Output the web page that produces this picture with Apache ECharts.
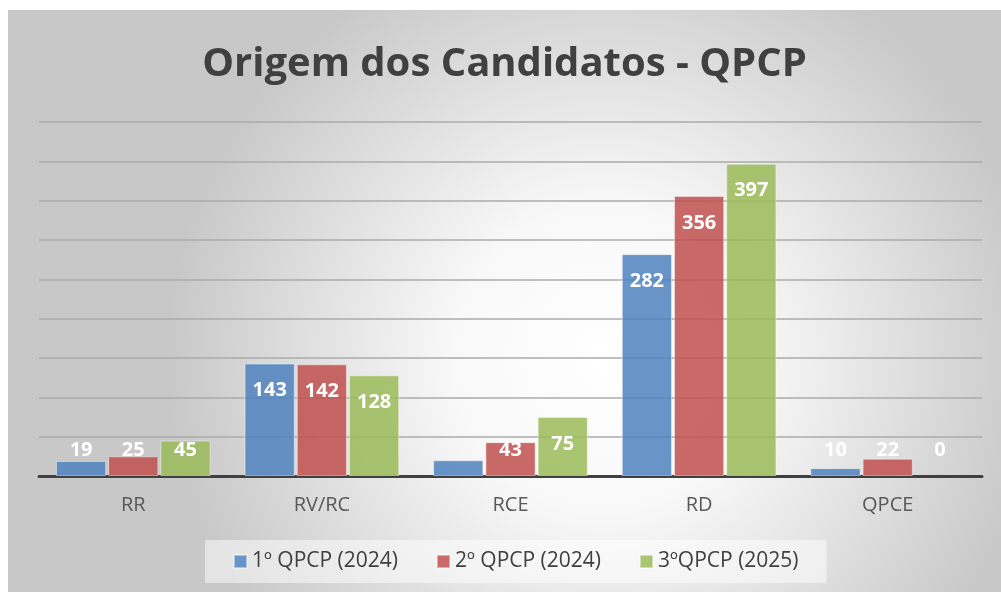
<!DOCTYPE html>
<html>
<head>
<meta charset="utf-8">
<script src="https://cdn.jsdelivr.net/npm/echarts@6/dist/echarts.min.js"></script>
<style>
html,body{margin:0;padding:0;background:#fff;width:1001px;height:592px;overflow:hidden;}
#c{position:absolute;left:8px;top:10px;width:993px;height:582px;}
</style>
</head>
<body>
<div id="c"></div>
<script>
const categories = ['RR', 'RV/RC', 'RCE', 'RD', 'QPCE'];
const seriesNames = ['1º QPCP (2024)', '2º QPCP (2024)', '3ºQPCP (2025)'];
const qpcp1 = [19, 143, 20, 282, 10];
const qpcp2 = [25, 142, 43, 356, 22];
const qpcp3 = [45, 128, 75, 397, 0];
// labels shown in the picture (the RCE bar of the 1st QPCP has no label)
const showLabel1 = [true, true, false, true, true];
const showLabel2 = [true, true, true, true, true];
const showLabel3 = [true, true, true, true, true];
const yTicks = { min: 0, max: 450, interval: 50 };
</script>
<script>
const colors = ['rgba(79,129,189,0.85)', 'rgba(192,80,77,0.85)', 'rgba(155,187,89,0.85)'];
const legendColors = ['#6994c7', '#c96a68', '#aac572'];
const chart = echarts.init(document.getElementById('c'));
const font = '"Open Sans", "Liberation Sans", sans-serif';
function mk(name, data, shows, i) {
  return {
    name: name,
    type: 'bar',
    data: data.map((v, k) => ({
      value: v,
      itemStyle: { borderWidth: v === 0 ? 0 : 1 },
      label: { show: shows[k] }
    })),
    barGap: '4%',
    barCategoryGap: '18%',
    itemStyle: { color: colors[i], borderColor: 'rgba(255,255,255,0.45)', borderWidth: 1 },
    label: {
      show: true, position: 'insideTop', distance: 16,
      color: '#ffffff', fontFamily: font, fontWeight: 'bold', fontSize: 20
    },
    labelLayout: function (p) {
      const r = p.rect;
      const base = r.y + r.height;
      const top = r.y;
      const want = Math.min(top + 27, base - 26);
      const cur = p.labelRect.y + p.labelRect.height / 2;
      return { dy: want - cur };
    }
  };
}
chart.setOption({
  backgroundColor: {
    type: 'radial', x: 0.6, y: 0.6, r: 0.75,
    colorStops: [{ offset: 0, color: '#ffffff' }, { offset: 0.35, color: '#f8f8f8' }, { offset: 1, color: '#c8c8c8' }]
  },
  color: legendColors,
  title: {
    text: 'Origem dos Candidatos - QPCP', left: 'center', top: 30,
    textStyle: { fontFamily: font, fontWeight: 'bold', fontSize: 40, color: '#404040' }
  },
  legend: {
    bottom: 9, left: 197,
    data: seriesNames.map((n, i) => ({ name: n, itemStyle: { color: legendColors[i] } })),
    itemWidth: 13, itemHeight: 13, itemGap: 38, icon: 'rect',
    backgroundColor: 'rgba(255,255,255,0.5)', padding: [11, 28],
    textStyle: { fontFamily: font, fontSize: 21, color: '#404040' }
  },
  grid: { left: 31, right: 19, top: 112, bottom: 116 },
  xAxis: {
    type: 'category', data: categories,
    axisLine: { lineStyle: { color: '#404040', width: 3 } },
    axisTick: { show: false },
    axisLabel: { fontFamily: font, fontSize: 20, color: '#595959', margin: 19 }
  },
  yAxis: {
    type: 'value', min: yTicks.min, max: yTicks.max, interval: yTicks.interval,
    axisLabel: { show: false }, axisLine: { show: false }, axisTick: { show: false },
    splitLine: { lineStyle: { color: '#ababab', width: 1.5 } }
  },
  series: [
    mk(seriesNames[0], qpcp1, showLabel1, 0),
    mk(seriesNames[1], qpcp2, showLabel2, 1),
    mk(seriesNames[2], qpcp3, showLabel3, 2)
  ]
});
</script>
</body>
</html>
